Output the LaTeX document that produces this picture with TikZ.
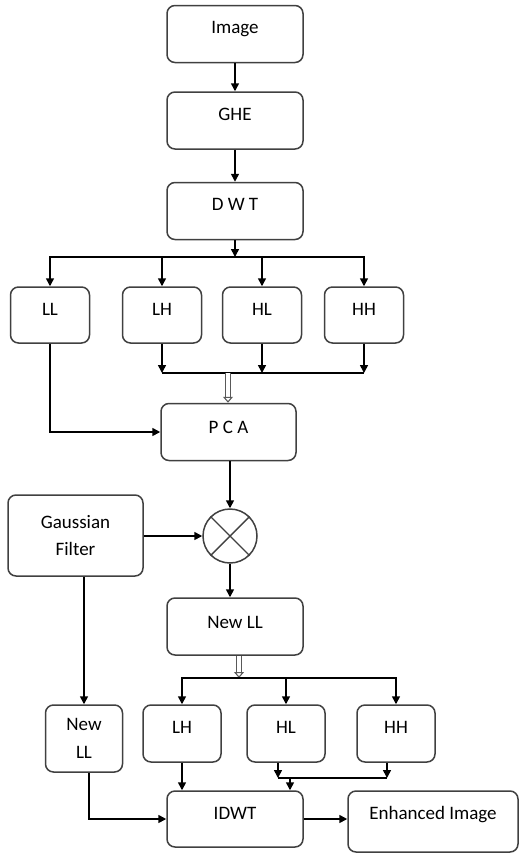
\documentclass[tikz,border=0pt]{standalone}
\usepackage{fontspec}
\setmainfont{Carlito}
\usetikzlibrary{arrows.meta, positioning}

\begin{document}
\begin{tikzpicture}[x=1pt, y=-1pt,
  box/.style={rectangle, draw=black!75, line width=1.5pt, rounded corners=8pt, inner sep=0pt,
              minimum width=136pt, text height=28pt, text depth=29pt, font=\fontsize{19}{23}\selectfont},
  sbox/.style={box, minimum width=79pt, text depth=28pt},
  mbox/.style={rectangle, draw=black!75, line width=1.5pt, rounded corners=8pt, inner sep=0pt,
               align=center, font=\fontsize{19}{27.5}\selectfont},
  mult/.style={circle, draw=black!75, line width=1.5pt, minimum size=54pt, inner sep=0pt},
  line/.style={line width=1.6pt},
  arrow/.style={line, -{Triangle[length=8pt, width=8pt]}},
  hollow/.style={draw=black!65, line width=1.1pt, double=white, double distance=3.5pt,
                 -{Triangle[open, length=6pt, width=10pt]}}]

\useasboundingbox (0,0) rectangle (520,854);

% first stage
\node[box] (img) at (235,34) {Image};
\node[box, below=28pt of img] (ghe) {GHE};
\node[box, below=32pt of ghe] (dwt) {D W T};

\node[sbox] (ll) at (50,315) {LL};
\node[sbox] (lh) at (162,315) {LH};
\node[sbox] (hl) at (262,315) {HL};
\node[sbox] (hh) at (364,315) {HH};

\node[box, minimum width=135pt, text height=30pt, text depth=27pt] (pca) at (228.5,432) {P C A};
\node[mult] (mul) at (230,536) {};
\node[mbox, minimum width=135pt, minimum height=81pt] (gauss) at (75.5,535.5) {Gaussian\\Filter};

% second stage
\node[box, text height=30pt, text depth=27pt] (newll) at (235,626.5) {New LL};
\node[mbox, minimum width=77pt, minimum height=67pt] (nll) at (84,738.5) {New\\LL};
\node[sbox, minimum width=78pt, text depth=29pt] (lh2) at (182,733.5) {LH};
\node[sbox, minimum width=78pt, text depth=29pt] (hl2) at (286,733.5) {HL};
\node[sbox, minimum width=78pt, text depth=29pt] (hh2) at (396,733.5) {HH};
\node[box, text depth=28pt] (idwt) at (235,819) {IDWT};
\node[box, minimum width=170pt, text depth=33pt] (enh) at (433,821.5) {Enhanced Image};

\coordinate (b1) at (235,257);
\coordinate (b2) at (228,373);
\coordinate (b3) at (239,678);
\coordinate (b4) at (290,778);

\draw[arrow] (img) -- (ghe);
\draw[arrow] (ghe) -- (dwt);
\draw[arrow] (dwt) -- (b1);
\draw[line] (ll.north |- b1) -- (hh.north |- b1);
\foreach \n in {ll,lh,hl,hh}
  \draw[arrow] (b1) -| (\n.north);

\foreach \n in {lh,hl,hh}
  \draw[arrow] (\n.south) -- (\n.south |- b2);
\draw[line] (lh.south |- b2) -- (hh.south |- b2);
\draw[hollow] (b2) -- (b2 |- pca.north);
\draw[arrow] (ll.south) |- (pca.west);

\draw[arrow] (pca.south -| mul) -- (mul.north);
\draw[arrow] (gauss.east |- mul) -- (mul.west);
\draw[line width=1.4pt, black!75] (mul.45) -- (mul.225);
\draw[line width=1.4pt, black!75] (mul.135) -- (mul.315);
\draw[arrow] (mul.south) -- (mul.south |- newll.north);
\draw[arrow] (gauss.south -| nll.north) -- (nll.north);

\draw[hollow] (b3 |- newll.south) -- (b3);
\draw[line] (lh2.north |- b3) -- (hh2.north |- b3);
\foreach \n in {lh2,hl2,hh2}
  \draw[arrow] (b3) -| (\n.north);

\draw[arrow] (lh2.south) -- (lh2.south |- idwt.north);
\draw[arrow] ([xshift=-8pt]hl2.south) -- ([xshift=-8pt]hl2.south |- b4);
\draw[arrow] ([xshift=-9pt]hh2.south) -- ([xshift=-9pt]hh2.south |- b4);
\draw[line] ([xshift=-8pt]hl2.south |- b4) -- ([xshift=-9pt]hh2.south |- b4);
\draw[arrow] (b4) -- (b4 |- idwt.north);
\draw[arrow] ([xshift=5pt]nll.south) |- (idwt.west);
\draw[arrow] (idwt.east) -- (idwt.east -| enh.west);
\end{tikzpicture}
\end{document}
